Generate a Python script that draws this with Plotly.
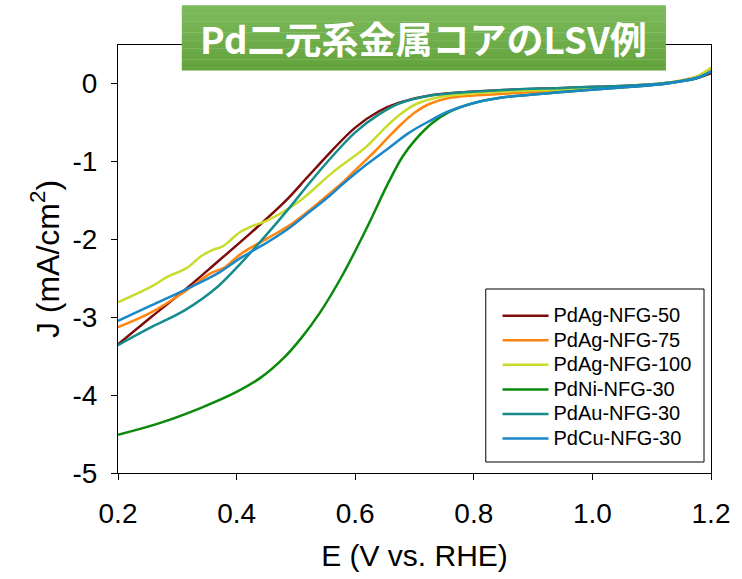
import plotly.graph_objects as go

# PdAg-NFG-50
x_ag50 = [0.2, 0.256, 0.313, 0.368, 0.424, 0.48, 0.52, 0.56, 0.6, 0.64, 0.674, 0.73,
          0.842, 0.95, 1.01, 1.066, 1.12, 1.15, 1.178, 1.2]
y_ag50 = [-3.35, -3.0, -2.65, -2.29, -1.92, -1.53, -1.2, -0.87, -0.57, -0.36, -0.25, -0.15,
          -0.09, -0.06, -0.045, -0.03, 0.0, 0.03, 0.07, 0.13]
# PdAg-NFG-75
x_ag75 = [0.2, 0.256, 0.313, 0.356, 0.38, 0.407, 0.452, 0.49, 0.523, 0.55, 0.578, 0.605,
          0.635, 0.66, 0.68, 0.7, 0.724, 0.758, 0.842, 0.95, 1.066, 1.12, 1.15, 1.178, 1.2]
y_ag75 = [-3.13, -2.94, -2.67, -2.44, -2.36, -2.19, -1.99, -1.82, -1.63, -1.46, -1.28, -1.08,
          -0.86, -0.66, -0.51, -0.38, -0.27, -0.19, -0.14, -0.09, -0.04, -0.005, 0.035, 0.09, 0.19]
# PdAg-NFG-100
x_ag100 = [0.2, 0.256, 0.284, 0.303, 0.318, 0.34, 0.359, 0.375, 0.386, 0.402, 0.424,
           0.452, 0.508, 0.561, 0.618, 0.652, 0.674, 0.702, 0.741, 0.842, 0.95, 1.066,
           1.12, 1.15, 1.178, 1.2]
y_ag100 = [-2.81, -2.61, -2.48, -2.42, -2.36, -2.22, -2.14, -2.1, -2.04, -1.93, -1.84,
           -1.76, -1.5, -1.15, -0.82, -0.56, -0.41, -0.27, -0.18, -0.11, -0.08, -0.035,
           0.0, 0.035, 0.09, 0.2]
# PdNi-NFG-30
x_ni30 = [0.2, 0.27, 0.338, 0.4, 0.44, 0.48, 0.51, 0.54, 0.578, 0.618, 0.657,
          0.68, 0.702, 0.73, 0.758, 0.797, 0.842, 0.955, 1.066, 1.12, 1.15, 1.178, 1.2]
y_ni30 = [-4.51, -4.36, -4.17, -3.96, -3.78, -3.52, -3.26, -2.95, -2.47, -1.88, -1.26,
          -0.94, -0.72, -0.51, -0.37, -0.26, -0.19, -0.11, -0.045, -0.01, 0.025, 0.07, 0.15]
# PdAu-NFG-30
x_au30 = [0.2, 0.256, 0.313, 0.368, 0.407, 0.452, 0.49, 0.524, 0.56, 0.6, 0.64, 0.674,
          0.73, 0.842, 0.95, 1.066, 1.12, 1.15, 1.178, 1.2]
y_au30 = [-3.36, -3.13, -2.91, -2.61, -2.31, -1.93, -1.59, -1.27, -0.95, -0.63, -0.4, -0.26,
          -0.155, -0.09, -0.06, -0.03, 0.0, 0.03, 0.075, 0.15]
# PdCu-NFG-30
x_cu30 = [0.2, 0.256, 0.313, 0.368, 0.407, 0.452, 0.49, 0.523, 0.556, 0.578, 0.618,
          0.655, 0.69, 0.724, 0.758, 0.797, 0.842, 0.955, 1.066, 1.12, 1.15, 1.178, 1.2]
y_cu30 = [-3.05, -2.85, -2.65, -2.44, -2.24, -2.04, -1.85, -1.65, -1.45, -1.3, -1.05,
          -0.84, -0.64, -0.49, -0.36, -0.26, -0.19, -0.11, -0.045, -0.01, 0.025, 0.07, 0.15]

names = ["PdAg-NFG-50", "PdAg-NFG-75", "PdAg-NFG-100", "PdNi-NFG-30", "PdAu-NFG-30", "PdCu-NFG-30"]
colors = ["#7f0a0a", "#ff8410", "#c9dc2c", "#0a8a0a", "#178c8c", "#1a88c8"]
xs_all = [x_ag50, x_ag75, x_ag100, x_ni30, x_au30, x_cu30]
ys_all = [y_ag50, y_ag75, y_ag100, y_ni30, y_au30, y_cu30]

x_ticks = [0.2, 0.4, 0.6, 0.8, 1.0, 1.2]
y_ticks = [0, -1, -2, -3, -4, -5]

title_text = "Pd二元系金属コアのLSV例"

fig = go.Figure()
for name, xs, ys, col in zip(names, xs_all, ys_all, colors):
    fig.add_trace(go.Scatter(x=xs, y=ys, name='<span style="font-size:20px">' + name + '</span>',
                             mode="lines",
                             line=dict(color=col, width=2.5, shape="spline", smoothing=1.0)))

font_family = "Arial, Liberation Sans, sans-serif"

fig.update_layout(
    width=742, height=579,
    margin=dict(l=118, r=29, t=45, b=106),
    paper_bgcolor="white", plot_bgcolor="white",
    font=dict(family=font_family, color="black"),
    showlegend=True,
    legend=dict(x=0.640, y=0.408, xanchor="left", yanchor="top",
                bgcolor="rgba(0,0,0,0)", borderwidth=0, itemwidth=46,
                font=dict(size=16.6, family=font_family)),
    xaxis=dict(range=[0.2, 1.2], tickvals=x_ticks, ticktext=[f"{v:.1f}" for v in x_ticks],
               ticks="outside", ticklen=6, tickcolor="black", showline=True,
               linecolor="black", linewidth=1, mirror=True, showgrid=False, zeroline=False,
               tickfont=dict(size=28), ticklabelstandoff=9,
               title=dict(text="E (V vs. RHE)", font=dict(size=30), standoff=17)),
    yaxis=dict(range=[-5, 0.49], tickvals=y_ticks, ticktext=[str(v) for v in y_ticks],
               ticks="outside", ticklen=6, tickcolor="black", showline=True,
               linecolor="black", linewidth=1, mirror=True, showgrid=False, zeroline=False,
               tickfont=dict(size=28), ticklabelstandoff=8,
               title=dict(text="J (mA/cm<sup>2</sup>)", font=dict(size=32), standoff=3)),
)

# legend frame
fig.add_shape(type="rect", xref="paper", yref="paper", x0=0.6202, x1=0.9882,
              y0=0.0257, y1=0.4299, line=dict(color="black", width=1),
              fillcolor="white", layer="below")

# green title banner with a vertical gradient
top_c = (0x7d, 0xba, 0x5e)
bot_c = (0x63, 0xa3, 0x3b)
n = 24
y0, y1 = 0.9416, 1.093
for i in range(n):
    t = i / (n - 1)
    c = tuple(round(top_c[k] + (bot_c[k] - top_c[k]) * t) for k in range(3))
    ya = y1 - (y1 - y0) * i / n
    yb = y1 - (y1 - y0) * (i + 1) / n
    fig.add_shape(type="rect", xref="paper", yref="paper", x0=0.1076, x1=0.924,
                  y0=yb - 0.001, y1=ya, line=dict(width=0),
                  fillcolor="rgb(%d,%d,%d)" % c, layer="above")

fig.add_annotation(text="<b>" + title_text + "</b>", xref="paper", yref="paper",
                   x=0.5158, y=(y0 + y1) / 2, xanchor="center", yanchor="middle",
                   showarrow=False,
                   font=dict(size=37, color="white",
                             family="Noto Sans CJK JP, Noto Sans, sans-serif"))

fig.write_html("out.html")
